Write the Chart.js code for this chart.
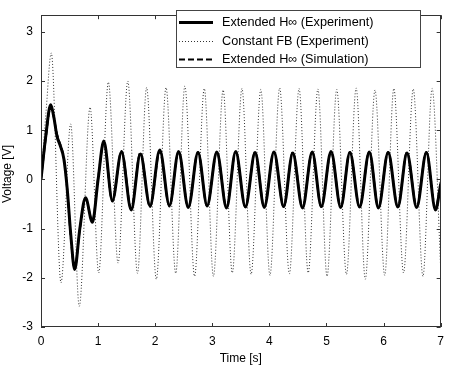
<!DOCTYPE html>
<html>
<head>
<meta charset="utf-8">
<script src="https://cdn.jsdelivr.net/npm/chart.js@4.4.1/dist/chart.umd.min.js"></script>
<style>
  html, body { margin: 0; padding: 0; background: #fff; }
  #wrap { width: 451px; height: 368px; }
</style>
</head>
<body>
<div id="wrap"><canvas id="c" width="451" height="368"></canvas></div>
<script>
// ---- data ----
const seriesLabels = ['Extended H\u221E (Experiment)', 'Constant FB (Experiment)', 'Extended H\u221E (Simulation)'];
const xTitle = 'Time [s]';
const yTitle = 'Voltage [V]';

const hinfExpT = [0, 0.08, 0.17, 0.22, 0.28, 0.34, 0.40, 0.46, 0.52, 0.59,
  0.68, 0.78, 0.90, 1.00, 1.10,
  1.25, 1.41, 1.58, 1.74, 1.91, 2.08, 2.25, 2.41, 2.58, 2.75,
  2.91, 3.08, 3.25, 3.41, 3.58, 3.75, 3.91, 4.08, 4.25, 4.41,
  4.58, 4.75, 4.91, 5.08, 5.25, 5.41, 5.58, 5.75, 5.91, 6.08,
  6.25, 6.41, 6.58, 6.75, 6.91, 7.0];
const hinfExpV = [0, 0.85, 1.52, 1.30, 0.88, 0.68, 0.42, -0.20, -1.10, -1.83,
  -1.00, -0.37, -0.87, 0.00, 0.78,
  -0.43, 0.56, -0.62, 0.52, -0.54, 0.60, -0.53, 0.57, -0.57, 0.55,
  -0.53, 0.56, -0.58, 0.57, -0.56, 0.55, -0.57, 0.56, -0.55, 0.54,
  -0.58, 0.56, -0.55, 0.57, -0.57, 0.55, -0.56, 0.56, -0.58, 0.55,
  -0.56, 0.54, -0.57, 0.55, -0.62, -0.10];

const cfbT = [0, 0.09, 0.18,
  0.35, 0.52, 0.67, 0.86, 1.01, 1.18, 1.35,
  1.52, 1.69, 1.85, 2.02, 2.19, 2.36, 2.52, 2.69, 2.86, 3.02,
  3.19, 3.35, 3.52, 3.68, 3.85, 4.01, 4.18, 4.35, 4.52, 4.68,
  4.85, 5.01, 5.18, 5.35, 5.52, 5.68, 5.85, 6.02, 6.18, 6.35,
  6.52, 6.69, 6.85, 7.0];
const cfbV = [0, 1.40, 2.57,
  -2.10, 1.13, -2.58, 1.47, -1.90, 1.98, -1.70,
  2.00, -1.91, 1.87, -2.03, 1.87, -1.91, 1.90, -1.97, 1.85, -1.97,
  1.82, -1.90, 1.85, -1.93, 1.83, -1.95, 1.86, -1.92, 1.85, -1.90,
  1.84, -1.97, 1.83, -1.93, 1.86, -2.03, 1.82, -1.95, 1.85, -1.90,
  1.84, -1.97, 1.85, -1.80];

const hinfSimT = hinfExpT;
const hinfSimV = [0, 0.80, 1.48, 1.28, 0.92, 0.70, 0.44, -0.22, -1.15, -1.80,
  -1.02, -0.40, -0.85, 0.02, 0.75,
  -0.45, 0.58, -0.58, 0.55, -0.56, 0.57, -0.55, 0.56, -0.56, 0.56,
  -0.55, 0.56, -0.56, 0.56, -0.56, 0.56, -0.56, 0.56, -0.56, 0.56,
  -0.56, 0.56, -0.56, 0.56, -0.56, 0.56, -0.56, 0.56, -0.56, 0.56,
  -0.56, 0.56, -0.56, 0.56, -0.58, -0.05];

const xTicks = [0, 1, 2, 3, 4, 5, 6, 7];
const yTicks = [-3, -2, -1, 0, 1, 2, 3];

// ---- chart ----
const FONT = "'Liberation Sans', Arial, Helvetica, sans-serif";
const pts = (t, v) => t.map((x, i) => ({ x: x, y: v[i] }));

const framePlugin = {
  id: 'frame',
  afterDraw(chart) {
    const { ctx, chartArea: a, scales } = chart;
    ctx.save();
    ctx.strokeStyle = '#333';
    ctx.lineWidth = 1;
    ctx.strokeRect(Math.round(a.left) + 0.5, Math.round(a.top) + 0.5,
      Math.round(a.right - a.left) - 1, Math.round(a.bottom - a.top) - 1);
    const L = 4;
    ctx.beginPath();
    xTicks.forEach(v => {
      const px = Math.round(scales.x.getPixelForValue(v)) + 0.5;
      ctx.moveTo(px, a.bottom); ctx.lineTo(px, a.bottom - L);
      ctx.moveTo(px, a.top); ctx.lineTo(px, a.top + L);
    });
    yTicks.forEach(v => {
      const py = Math.round(scales.y.getPixelForValue(v)) + 0.5;
      ctx.moveTo(a.left, py); ctx.lineTo(a.left + L, py);
      ctx.moveTo(a.right, py); ctx.lineTo(a.right - L, py);
    });
    ctx.stroke();

    // y axis title
    ctx.save();
    ctx.fillStyle = '#000';
    ctx.font = '12px ' + FONT;
    ctx.textAlign = 'center';
    ctx.textBaseline = 'middle';
    ctx.translate(8, 174);
    ctx.rotate(-Math.PI / 2);
    ctx.fillText(yTitle, 0, 0);
    ctx.restore();

    // legend box inside plot
    const bx = 176.5, by = 10.5, bw = 244, bh = 57;
    ctx.fillStyle = '#fff';
    ctx.fillRect(bx, by, bw, bh);
    ctx.strokeStyle = '#444';
    ctx.strokeRect(bx, by, bw, bh);
    const rows = [22, 41, 59];
    chart.data.datasets.forEach((ds, i) => {
      const y = rows[i] + 0.5;
      ctx.save();
      ctx.strokeStyle = ds.borderColor;
      ctx.lineWidth = ds.borderWidth;
      ctx.setLineDash(ds.borderDash || []);
      ctx.beginPath();
      ctx.moveTo(179, y); ctx.lineTo(213, y);
      ctx.stroke();
      ctx.restore();
      ctx.fillStyle = '#000';
      ctx.font = '12.7px ' + FONT;
      ctx.textBaseline = 'middle';
      ctx.textAlign = 'left';
      ctx.fillText(ds.label, 222, rows[i]);
    });
    ctx.restore();
  }
};

new Chart(document.getElementById('c'), {
  type: 'line',
  data: {
    datasets: [
      { label: seriesLabels[0], data: pts(hinfExpT, hinfExpV), borderColor: '#000', borderWidth: 3, pointRadius: 0, cubicInterpolationMode: 'monotone', fill: false },
      { label: seriesLabels[1], data: pts(cfbT, cfbV), borderColor: '#333', borderWidth: 1, borderDash: [1, 2], pointRadius: 0, cubicInterpolationMode: 'monotone', fill: false },
      { label: seriesLabels[2], data: pts(hinfSimT, hinfSimV), borderColor: '#000', borderWidth: 2, borderDash: [6, 3], pointRadius: 0, cubicInterpolationMode: 'monotone', fill: false }
    ]
  },
  options: {
    responsive: false,
    animation: false,
    devicePixelRatio: 1,
    layout: { padding: { top: 8, right: 4, left: 0, bottom: 0 } },
    plugins: { legend: { display: false }, tooltip: { enabled: false } },
    scales: {
      x: {
        type: 'linear', min: 0, max: 7,
        afterBuildTicks: s => { s.ticks = xTicks.map(v => ({ value: v })); },
        afterFit: s => { s.height = 41; },
        grid: { display: false, drawTicks: false },
        border: { display: false },
        ticks: { padding: 7, color: '#000', font: { family: FONT, size: 12 }, maxRotation: 0 },
        title: { display: true, text: xTitle, color: '#000', font: { family: FONT, size: 12 }, padding: { top: 0, bottom: 2 } }
      },
      y: {
        type: 'linear', min: -3, max: 3.34,
        afterBuildTicks: s => { s.ticks = yTicks.map(v => ({ value: v })); },
        afterFit: s => { s.width = 41; },
        grid: { display: false, drawTicks: false },
        border: { display: false },
        ticks: { padding: 8, color: '#000', font: { family: FONT, size: 12 } },
        title: { display: false }
      }
    }
  },
  plugins: [framePlugin]
});
</script>
</body>
</html>
